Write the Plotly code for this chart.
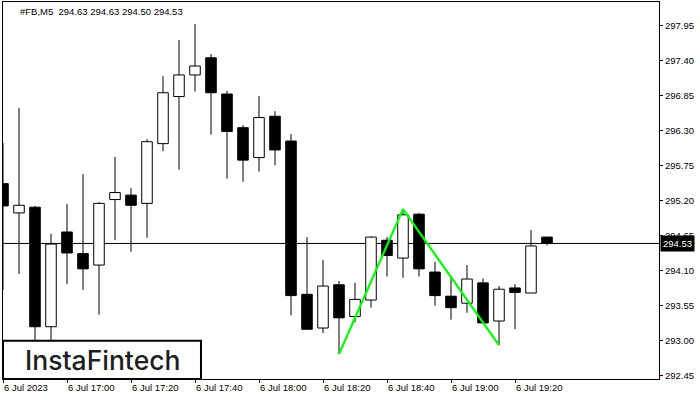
import plotly.graph_objects as go

# ---- data ----
times = ["16:40", "16:45", "16:50", "16:55", "17:00", "17:05", "17:10", "17:15",
         "17:20", "17:25", "17:30", "17:35", "17:40", "17:45", "17:50", "17:55",
         "18:00", "18:05", "18:10", "18:15", "18:20", "18:25", "18:30", "18:35",
         "18:40", "18:45", "18:50", "18:55", "19:00", "19:05", "19:10", "19:15",
         "19:20", "19:25", "19:30"]
opens = [295.47, 295.01, 295.10, 293.22, 294.71, 294.37, 294.19, 295.22,
         295.29, 295.16, 296.10, 296.84, 297.18, 297.45, 296.88, 296.35,
         295.88, 296.53, 296.14, 293.73, 293.20, 293.88, 293.38, 293.64,
         294.58, 294.30, 294.99, 294.08, 293.70, 293.59, 293.91, 293.31,
         293.83, 293.75, 294.63]
highs = [296.11, 296.66, 295.12, 294.68, 295.15, 295.62, 295.18, 295.89,
         295.40, 296.17, 297.16, 297.73, 297.98, 297.51, 296.93, 296.39,
         296.85, 296.61, 296.25, 294.63, 294.27, 293.94, 293.91, 294.64,
         294.63, 295.07, 295.01, 294.24, 294.02, 294.19, 293.98, 293.86,
         293.89, 294.74, 294.63]
lows = [293.80, 294.05, 292.85, 292.85, 293.89, 293.80, 293.41, 294.58,
        294.40, 294.62, 295.98, 295.69, 296.92, 296.24, 295.55, 295.50,
        295.66, 295.76, 293.40, 293.18, 293.12, 292.79, 293.29, 293.52,
        294.01, 293.99, 294.01, 293.55, 293.33, 293.44, 293.28, 292.93,
        293.18, 293.75, 294.50]
closes = [295.12, 295.13, 293.22, 294.52, 294.38, 294.13, 295.16, 295.33,
          295.13, 296.13, 296.90, 297.18, 297.32, 296.90, 296.29, 295.84,
          296.51, 296.00, 293.71, 293.18, 293.86, 293.36, 293.65, 294.63,
          294.34, 294.98, 294.13, 293.71, 293.52, 293.97, 293.28, 293.81,
          293.76, 294.49, 294.53]

pattern_times = ["18:25", "18:45", "19:15"]
pattern_prices = [292.79, 295.07, 292.93]

bid_price = 294.53
title_text = "#FB,M5\u00a0\u00a0294.63 294.63 294.50 294.53"

tick_times = ["16:40", "17:00", "17:20", "17:40", "18:00", "18:20", "18:40", "19:00", "19:20"]
tick_labels = ["6 Jul 2023", "6 Jul 17:00", "6 Jul 17:20", "6 Jul 17:40", "6 Jul 18:00",
               "6 Jul 18:20", "6 Jul 18:40", "6 Jul 19:00", "6 Jul 19:20"]
y_ticks = [292.45, 293.00, 293.55, 294.10, 294.65, 295.20, 295.75, 296.30, 296.85, 297.40, 297.95]
y_labels = ["292.45", "293.00", "293.55", "294.10", "294.65", "295.20", "295.75",
            "296.30", "296.85", "297.40", "297.95"]
logo_text = "InstaFintech"

# ---- build ----
FONT = "Liberation Sans, Arial, sans-serif"

body_top = [max(o, c) for o, c in zip(opens, closes)]
body_bot = [min(o, c) for o, c in zip(opens, closes)]
body_h = [t - b for t, b in zip(body_top, body_bot)]
body_col = ["white" if c >= o else "black" for o, c in zip(opens, closes)]

wx, wy = [], []
for t, h, l, bt, bb in zip(times, highs, lows, body_top, body_bot):
    if h > bt:
        wx += [t, t, None]
        wy += [bt, h, None]
    if l < bb:
        wx += [t, t, None]
        wy += [bb, l, None]

fig = go.Figure()
fig.add_trace(go.Bar(x=times, y=body_h, base=body_bot, width=0.66,
                     marker=dict(color=body_col, line=dict(color="black", width=1)),
                     hoverinfo="skip", showlegend=False))
fig.add_trace(go.Scatter(x=wx, y=wy, mode="lines", line=dict(color="black", width=1),
                         hoverinfo="skip", showlegend=False))
fig.add_trace(go.Scatter(x=pattern_times, y=pattern_prices, mode="lines",
                         line=dict(color="#00ff00", width=2.2),
                         hoverinfo="skip", showlegend=False))

fig.add_shape(type="line", xref="paper", x0=0, x1=1, yref="y", y0=bid_price, y1=bid_price,
              line=dict(color="black", width=1), layer="below")

fig.add_annotation(text=f"{bid_price:.2f}", xref="paper", x=1, xanchor="left",
                   xshift=1, yref="y", y=bid_price, yanchor="middle", showarrow=False,
                   bgcolor="black", borderpad=2,
                   font=dict(family=FONT, size=9.5, color="white"))

fig.add_annotation(text=title_text, xref="paper", x=0.0229, xanchor="left",
                   yref="paper", y=0.976, yanchor="middle", showarrow=False,
                   font=dict(family=FONT, size=9.5, color="black"))

# logo box
fig.add_shape(type="rect", xref="paper", yref="paper", x0=0, x1=0.3018, y0=0, y1=0.1016,
              fillcolor="white", line=dict(color="black", width=2), layer="above")
fig.add_annotation(text=logo_text, xref="paper", x=0.151, xanchor="center",
                   yref="paper", y=0.0517, yanchor="middle", showarrow=False,
                   font=dict(family="Inter, Lato, sans-serif", size=26.5, color="#1e1e1e",
                             weight=500))

fig.update_layout(
    width=700, height=400,
    margin=dict(l=3, r=41, t=2, b=21, autoexpand=False),
    paper_bgcolor="white", plot_bgcolor="white",
    showlegend=False,
    xaxis=dict(type="category", categoryorder="array", categoryarray=times,
               range=[0, 41], showgrid=False, zeroline=False, automargin=False,
               showline=True, mirror=True, linecolor="black", linewidth=1,
               ticks="outside", ticklen=3, tickcolor="black", tickwidth=1,
               tickvals=tick_times, ticktext=tick_labels,
               ticklabelposition="outside right",
               tickfont=dict(family=FONT, size=9.5, color="black")),
    yaxis=dict(side="right", range=[292.398, 298.327], showgrid=False, zeroline=False,
               automargin=False,
               showline=True, mirror=True, linecolor="black", linewidth=1,
               ticks="outside", ticklen=3, tickcolor="black", tickwidth=1,
               tickvals=y_ticks, ticktext=y_labels,
               tickfont=dict(family=FONT, size=9.5, color="black")),
)

fig.write_html("out.html", config={"displayModeBar": False},
               post_script="document.body.style.margin='0';document.body.style.overflow='hidden';")
